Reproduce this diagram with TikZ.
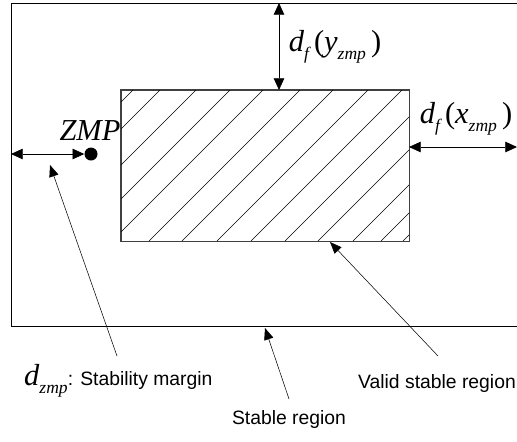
\documentclass[tikz,border=0pt]{standalone}
\usepackage{fontspec}
\setmainfont{Liberation Serif}
\setsansfont{Liberation Sans}
\usetikzlibrary{arrows.meta}

\newcommand{\lowsub}[1]{\raisebox{-0.55ex}{\fontsize{15}{15}\selectfont\itshape #1}}
\newcommand{\uppar}[1]{{\upshape #1}}

\tikzset{
  dimarrow/.style={{Triangle[length=10pt,width=9pt]}-{Triangle[length=10pt,width=9pt]},line width=0.6pt},
  pointer/.style={-{Triangle[length=10pt,width=8pt]},line width=0.45pt},
  mathlabel/.style={font=\fontsize{26}{28}\selectfont\itshape,inner sep=0pt},
  textlabel/.style={font=\sffamily\fontsize{16.5}{18}\selectfont,inner sep=0pt}
}

\begin{document}
\begin{tikzpicture}[x=0.03cm,y=-0.03cm,line cap=butt,line join=miter]
        \useasboundingbox (0,0) rectangle (517,441);

        % stable region (runs off the right side)
        \draw[line width=0.8pt] (517,3) -- (11,3) -- (11,326) -- (517,326);

        % valid stable region, hatched
        \node[draw=black!75,line width=0.7pt,minimum width=288*0.03cm,minimum height=151*0.03cm,inner sep=0pt]
            (valid) at (265,165.5) {};
        \begin{scope}
            \clip (valid.south west) rectangle (valid.north east);
            \foreach \c in {223,250,286,320,353,390,423,458,492,526,559,594,622,644}
                \draw[line width=0.45pt] (\c-241,241) -- (\c-90,90);
        \end{scope}
        \draw[draw=black!75,line width=0.7pt] (valid.south west) rectangle (valid.north east);

        % ZMP point and its margin
        \node[circle,fill,inner sep=0pt,minimum size=13*0.03cm] (zmp) at (91,154) {};
        \node[mathlabel] (zmplbl) at (90,131) {ZMP};
        \coordinate (leftwall) at (11,154);
        \draw[dimarrow] (leftwall) -- (zmp.west);

        % distances from the valid region
        \coordinate (topwall) at (279,3);
        \coordinate (validtop) at (279,90);
        \draw[dimarrow] (topwall) -- (validtop);
        \node[mathlabel] (dylbl) at (335,47) {d\lowsub{f}\,\uppar{(}y\lowsub{zmp}\,\uppar{)}};
        \coordinate (validright) at (409,147);
        \coordinate (rightwall) at (517,147);
        \draw[dimarrow] (validright) -- (rightwall);
        \node[mathlabel] (dxlbl) at (466,119) {d\lowsub{f}\,\uppar{(}x\lowsub{zmp}\,\uppar{)}};

        % labels below
        \node[textlabel,anchor=west] (marginlbl) at (24,381)
            {{\rmfamily\itshape\fontsize{26}{28}\selectfont d\lowsub{zmp}}: Stability margin};
        \node[textlabel] (validlbl) at (437,383) {Valid stable region};
        \node[textlabel] (stablelbl) at (289,419) {Stable region};

        % pointers
        \coordinate (margintail) at (117,356);
        \coordinate (marginhead) at (50,165);
        \draw[pointer] (margintail) -- (marginhead);
        \coordinate (stabletail) at (289,399);
        \coordinate (stablehead) at (265,328);
        \draw[pointer] (stabletail) -- (stablehead);
        \coordinate (validtail) at (438,356);
        \coordinate (validhead) at (330,242);
        \draw[pointer] (validtail) -- (validhead);
\end{tikzpicture}
\end{document}
